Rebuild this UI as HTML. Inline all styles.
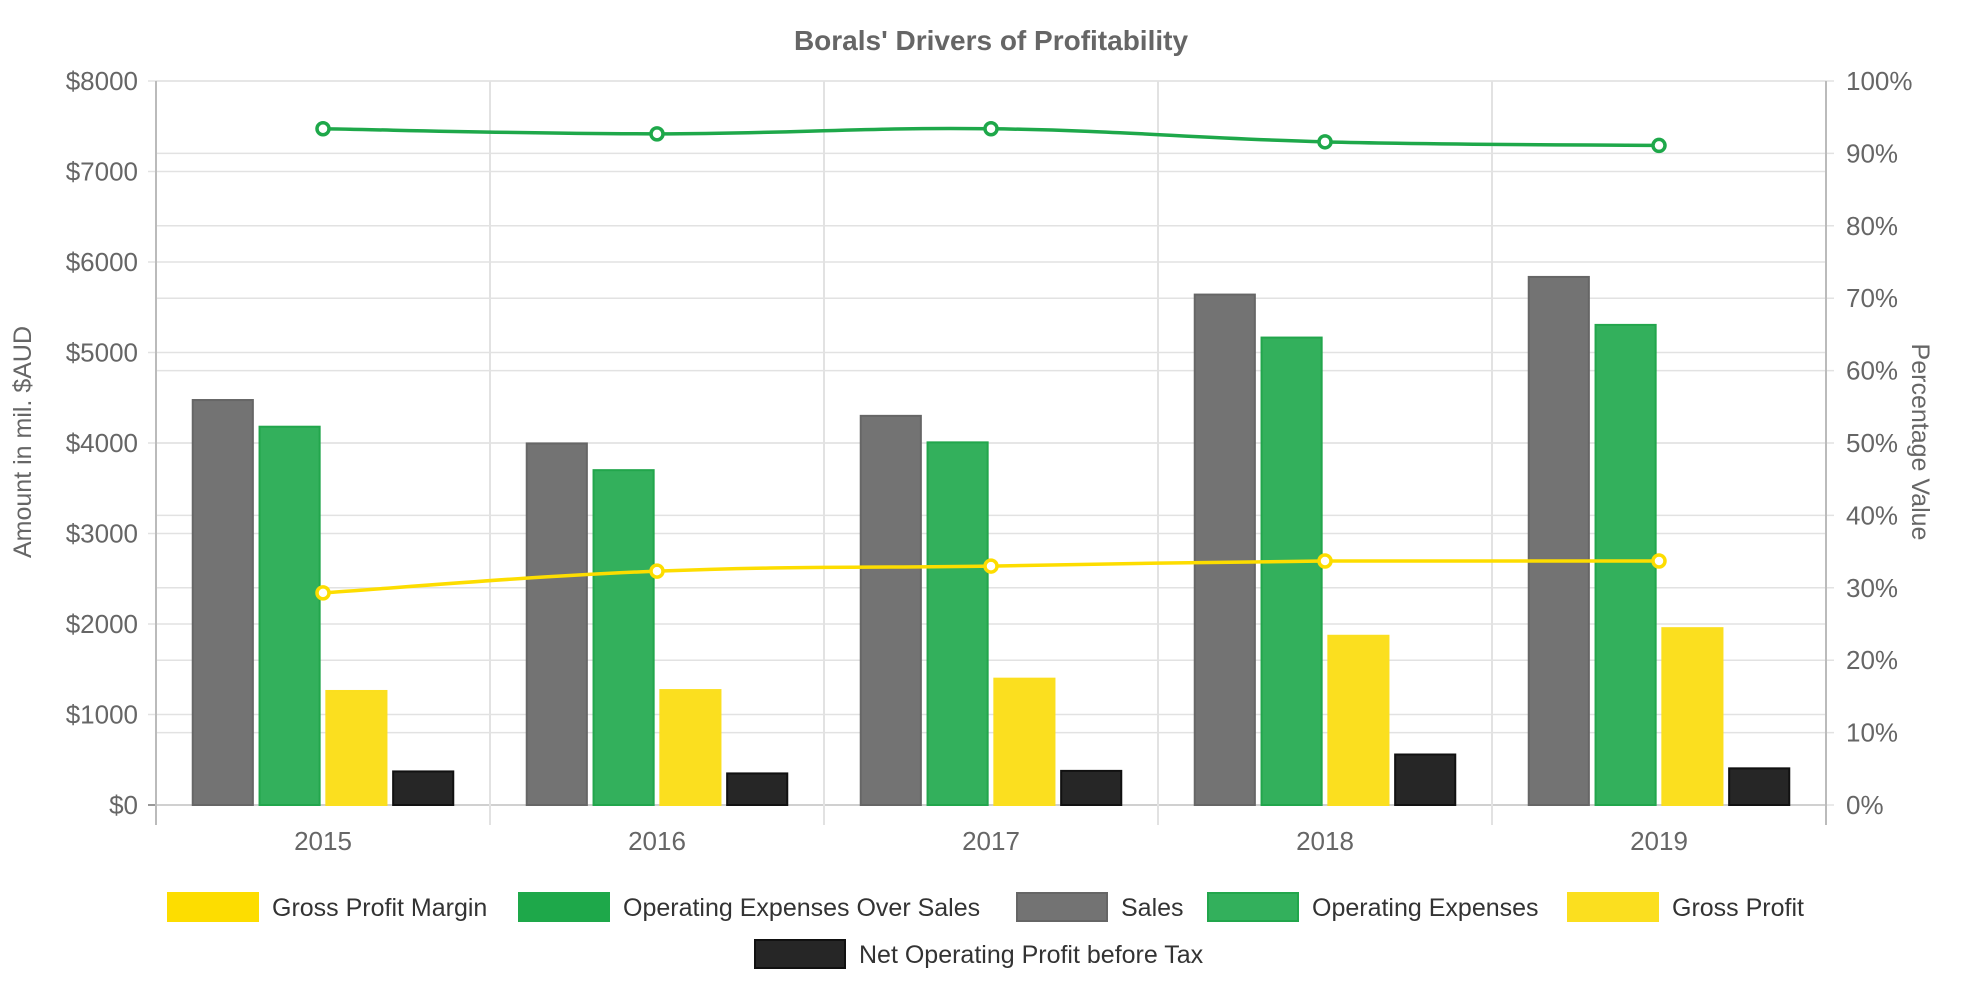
<!DOCTYPE html>
<html><head><meta charset="utf-8"><style>
html,body{margin:0;padding:0;background:#fff;}
svg{display:block;font-family:"Liberation Sans",sans-serif;}
</style></head><body>
<svg id="chart" width="1980" height="990" viewBox="0 0 1980 990">
<text x="991" y="50" text-anchor="middle" font-size="28" font-weight="bold" fill="#666">Borals' Drivers of Profitability</text>
<text transform="translate(31,442) rotate(-90)" text-anchor="middle" font-size="25" fill="#666">Amount in mil. $AUD</text>
<text transform="translate(1912,442) rotate(90)" text-anchor="middle" font-size="25" fill="#666">Percentage Value</text>
<g id="grid"></g><g id="bars"></g><g id="lines"></g><g id="axes"></g><g id="legend"></g>
</svg>
<script>
const categories = ["2015","2016","2017","2018","2019"];
const sales = [4475, 3995, 4300, 5640, 5835];
const opex = [4180, 3700, 4007, 5165, 5305];
const grossProfit = [1260, 1270, 1396, 1870, 1954];
const nopbt = [371, 349, 377, 558, 405];
const grossMargin = [29.3, 32.3, 33.0, 33.7, 33.7];
const opexOverSales = [93.4, 92.7, 93.4, 91.6, 91.1];
const leftTicks = [0,1000,2000,3000,4000,5000,6000,7000,8000];
const rightTicks = [0,10,20,30,40,50,60,70,80,90,100];

const NS="http://www.w3.org/2000/svg";
const L=156,R=1826,T=81,B=805;
const yL=v=>B-(v/8000)*(B-T);
const yR=v=>B-(v/100)*(B-T);
const cw=(R-L)/categories.length;
const xC=i=>L+cw*(i+0.5);
function mk(tag,attrs,parent,text){const e=document.createElementNS(NS,tag);for(const k in attrs)e.setAttribute(k,attrs[k]);if(text!=null)e.textContent=text;parent.appendChild(e);return e;}
const grid=document.getElementById('grid'),bars=document.getElementById('bars'),lines=document.getElementById('lines'),axes=document.getElementById('axes'),legend=document.getElementById('legend');

leftTicks.forEach(v=>{const y=yL(v);
 const g=mk('line',{x1:L-8,x2:R,y1:y,y2:y,stroke:v===0?'#999':'#e2e2e2','stroke-width':v===0?2:1.5},grid);
 
 
 const t=mk('text',{x:138,y:y+9,'text-anchor':'end','font-size':26,fill:'#666'},axes,'$'+v);
 
 
});
rightTicks.forEach(v=>{const y=yR(v);
 const g=mk('line',{x1:L,x2:R+8,y1:y,y2:y,stroke:'#e2e2e2','stroke-width':1.5},grid);
 
 
 const t=mk('text',{x:1846,y:y+9,'text-anchor':'start','font-size':26,fill:'#666'},axes,v+'%');
 
 
});
for(let i=0;i<=categories.length;i++){const x=L+cw*i;
 const g=mk('line',{x1:x,x2:x,y1:T,y2:B+20,stroke:(i===0||i===categories.length)?'#bbb':'#e2e2e2','stroke-width':2},grid);
 
 
}
categories.forEach((c,i)=>{const t=mk('text',{x:xC(i),y:850,'text-anchor':'middle','font-size':26,fill:'#666'},axes,c);
 
 
});

const barSeries=[[sales,'#737373','#666','sales'],[opex,'#33b05c','#22a64c','operating-expenses'],[grossProfit,'#fbdf1f','#fbdf1f','gross-profit'],[nopbt,'#262626','#111','net-operating-profit']];
const slot=cw*0.8/4,bw=slot*0.9;
barSeries.forEach((s,k)=>{s[0].forEach((v,i)=>{
 const x=xC(i)-cw*0.4+slot*k+(slot-bw)/2;
 const r=mk('rect',{x:x,y:yL(v),width:bw,height:B-yL(v),fill:s[1],stroke:s[2],'stroke-width':2},bars);
 
 
});});

function smooth(pts){let d='M'+pts[0][0]+','+pts[0][1];
 for(let i=0;i<pts.length-1;i++){const p0=pts[Math.max(0,i-1)],p1=pts[i],p2=pts[i+1],p3=pts[Math.min(pts.length-1,i+2)];const t=0.4/2;
  d+=' C'+(p1[0]+(p2[0]-p0[0])*t)+','+(p1[1]+(p2[1]-p0[1])*t)+' '+(p2[0]-(p3[0]-p1[0])*t)+','+(p2[1]-(p3[1]-p1[1])*t)+' '+p2[0]+','+p2[1];}
 return d;}
[[opexOverSales,'#1ea84a','operating-expenses-over-sales'],[grossMargin,'#fddd00','gross-profit-margin']].forEach(s=>{
 const pts=s[0].map((v,i)=>[xC(i),yR(v)]);
 const p=mk('path',{d:smooth(pts),fill:'none',stroke:s[1],'stroke-width':3.5},lines);
 
 
 pts.forEach(pt=>{const c=mk('circle',{cx:pt[0],cy:pt[1],r:6,fill:'#fff',stroke:s[1],'stroke-width':3.5},lines);
  
  });
});

const leg=[['Gross Profit Margin','#fddd00','#fddd00',168,893],['Operating Expenses Over Sales','#1ea84a','#1ea84a',519,893],['Sales','#737373','#666',1017,893],['Operating Expenses','#33b05c','#22a64c',1208,893],['Gross Profit','#fbdf1f','#fbdf1f',1568,893],['Net Operating Profit before Tax','#262626','#111',755,940]];
leg.forEach(l=>{
 const g=mk('g',{},legend);
 
 
 mk('rect',{x:l[3],y:l[4],width:90,height:28,fill:l[1],stroke:l[2],'stroke-width':2},g);
 mk('text',{x:l[3]+104,y:l[4]+23,'font-size':25,fill:'#333'},g,l[0]);
});
</script>
</body></html>
